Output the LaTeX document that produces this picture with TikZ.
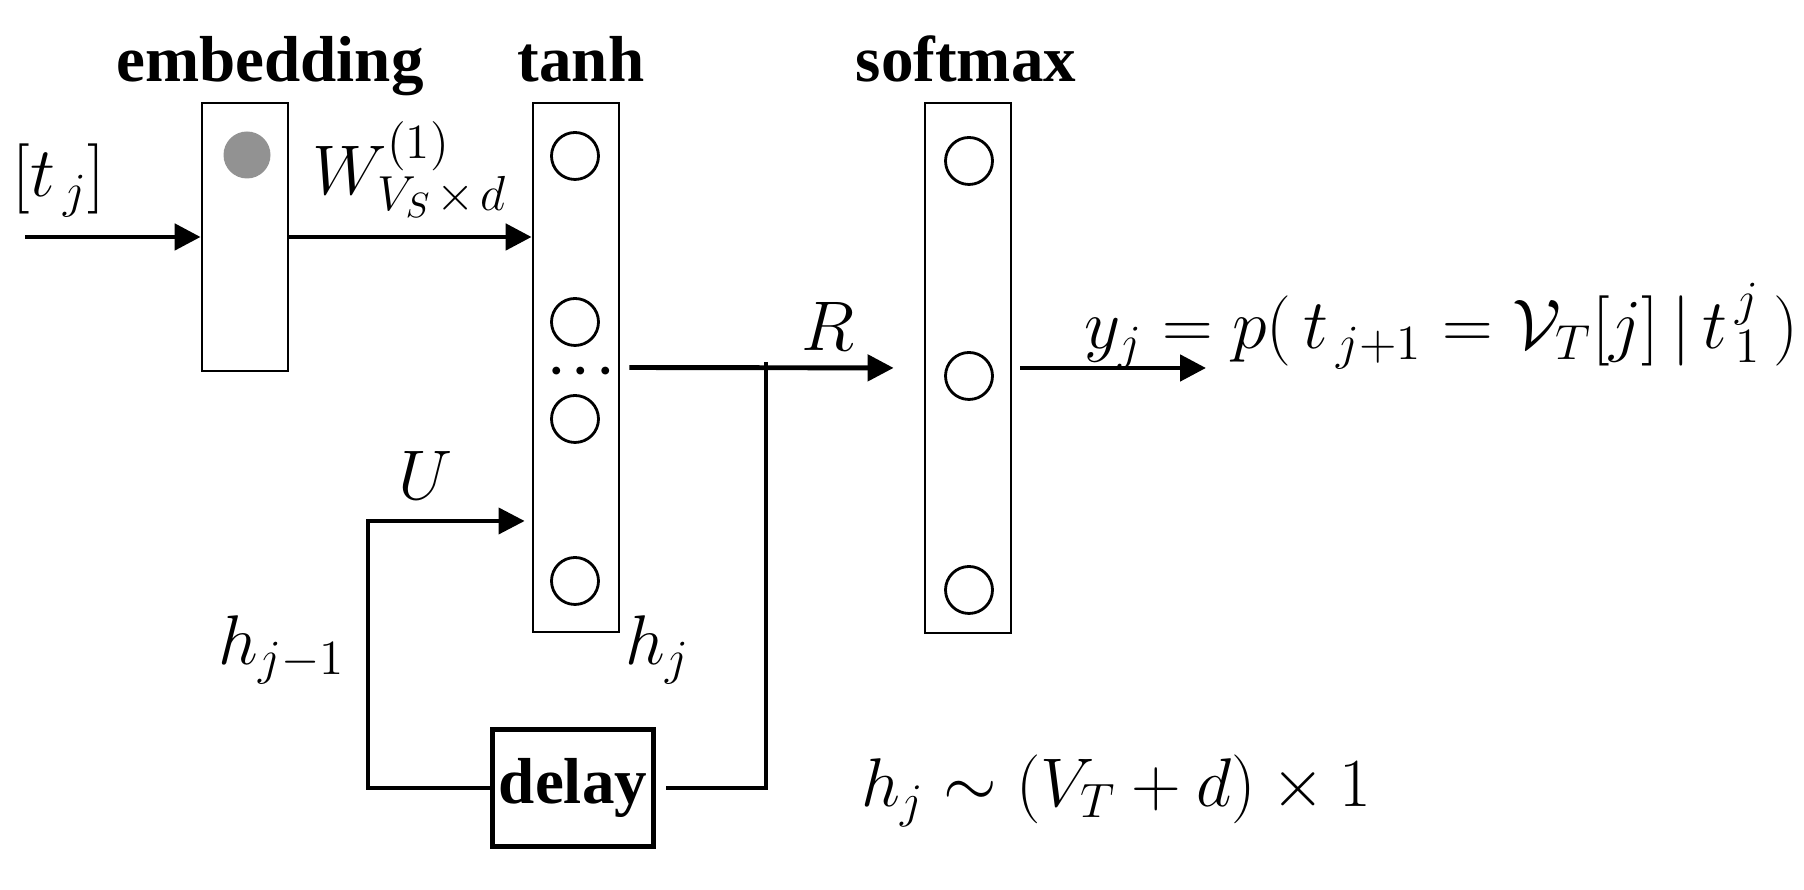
\RequirePackage{fix-cm}
\documentclass[tikz,border=0pt]{standalone}
\usepackage{fontspec}
\newfontfamily\lblfont{Liberation Serif}
\usetikzlibrary{arrows.meta, positioning}
\definecolor{embgray}{RGB}{146,146,146}

\begin{document}
\begin{tikzpicture}[
    layer/.style={draw, line width=0.8pt, minimum width=0.86cm, inner sep=0pt},
    unit/.style={draw, circle, line width=0.8pt, minimum size=0.47cm, inner sep=0pt},
    title/.style={font=\fontsize{18.5}{22}\selectfont\lblfont\bfseries, anchor=base},
    mth/.style={font=\fontsize{20}{24}\selectfont, inner sep=0pt},
    tip/.style={-{Triangle[length=0.26cm, width=0.26cm]}},
    arrow/.style={tip, line width=1.4pt},
    fb/.style={line width=1.1pt}
]
    \useasboundingbox (0,0) rectangle (18.04,8.90);

    % layers
    \node[layer, minimum height=2.68cm] (emb)  at (2.45,6.53)  {};
    \node[layer, minimum height=5.29cm] (hid)  at (5.76,5.225) {};
    \node[layer, minimum height=5.30cm] (soft) at (9.68,5.22)  {};
    \node[title] (embt)  at (2.70,8.08) {embedding};
    \node[title] (hidt)  at (5.81,8.08) {tanh};
    \node[title] (softt) at (9.66,8.08) {softmax};

    % units
    \node[unit, fill=embgray, draw=none] (e1) at (2.47,7.35) {};
    \node[unit] (h1) at (5.75,7.34) {};
    \node[unit] (h2) at (5.75,5.68) {};
    \node[unit] (h3) at (5.75,4.71) {};
    \node[unit] (h4) at (5.75,3.09) {};
    \node[mth, font=\fontsize{21}{25}\selectfont, anchor=base] (hdots) at (5.81,5.005)
        {${\cdotp}\mkern1mu{\cdotp}\mkern1mu{\cdotp}$};
    \node[unit] (s1) at (9.69,7.29) {};
    \node[unit] (s2) at (9.69,5.14) {};
    \node[unit] (s3) at (9.69,3.00) {};

    \node[draw, line width=1.2pt, minimum width=1.61cm, minimum height=1.17cm, inner sep=0pt,
          font=\fontsize{18.5}{22}\selectfont\lblfont\bfseries] (delay) at (5.73,1.02) {delay};

    % labels
    \node[mth, anchor=base west] (tin)  at (0.12,6.93) {$[t_{\,j}]$};
    \node[mth, anchor=base west] (wlbl) at (3.12,6.95) {$W^{(1)}_{V_S\mkern2mu\times\mkern2mu d}$};
    \node[mth] (ulbl) at (4.26,4.15) {$U$};
    \node[mth] (rlbl) at (8.28,5.63) {$R$};
    \node[mth] (hjm)  at (2.82,2.40) {$h_{j-1}$};
    \node[mth] (hj)   at (6.58,2.40) {$h_j$};
    \node[mth, anchor=base west] (ylbl) at (10.84,5.41)
        {$y_j = p(\,t_{\,j+1} = \mathcal{V}_T[j] \,|\, t_{\,1}^{\,j}\,)$};
    \node[mth, font=\fontsize{19.6}{24}\selectfont, anchor=base west] (hdim) at (8.61,0.83)
        {$h_j \sim (V_T+d)\times 1$};

    % forward pass
    \coordinate (tin0) at (0.25,6.53);
    \coordinate (yend) at (12.06,5.22);
    \draw[arrow] (tin0) -- (emb.west);
    \draw[arrow] (emb.east) -- (emb.east -| hid.west);
    \draw[arrow, shorten <=0.09cm, shorten >=0.30cm] (hid.east) -- (soft.west);
    \draw[arrow, shorten <=0.08cm] (soft.east) -- (yend);

    % recurrence through delay
    \coordinate (split) at (7.66,5.275);
    \coordinate (uturn) at (3.68,3.69);
    \draw[fb] (split) |- ([xshift=0.1cm]delay.east);
    \draw[fb, tip, shorten >=0.07cm] (delay.west) -| (uturn) -- (uturn -| hid.west);
\end{tikzpicture}
\end{document}
